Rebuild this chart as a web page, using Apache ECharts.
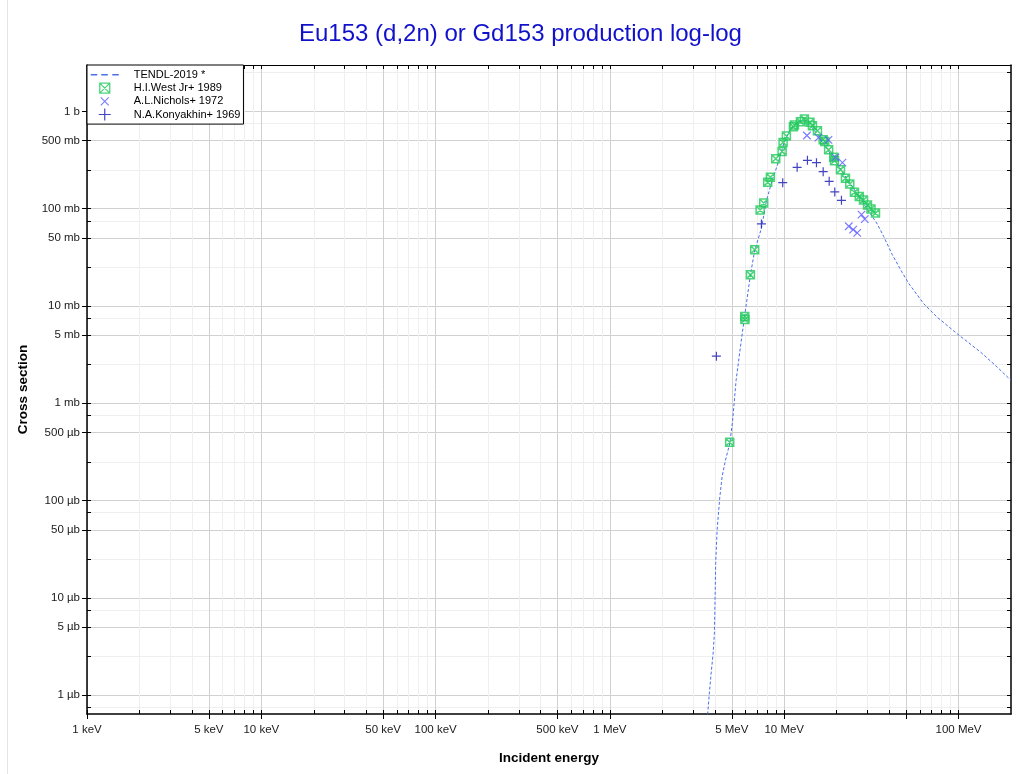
<!DOCTYPE html>
<html>
<head>
<meta charset="utf-8">
<script src="https://cdn.jsdelivr.net/npm/echarts@6/dist/echarts.min.js"></script>
<style>
html,body{margin:0;padding:0;background:#fff;}
#chart{width:1020px;height:774px;}
</style>
</head>
<body>
<div id="chart"></div>
<script>
// ---- Data (energies in MeV, cross sections in barns) ----
const tendlE  = [3.60, 3.64, 3.72, 3.81, 3.91, 3.975, 4.012, 4.044, 4.12, 4.264, 4.40, 4.60, 4.87, 5.06, 5.295, 5.606, 5.934, 6.397, 6.771, 7.40, 7.905, 8.52, 9.18, 9.935, 10.61, 11.34, 12.39, 13.23, 14.14, 15.45, 16.86, 18.42, 20.12, 21.96, 23.99, 26.22, 28.61, 31.25, 34.15, 37.25, 41.65, 47.52, 51.85, 63.22, 75.45, 98.28, 133.8, 166.8, 200];
const tendlXS = [5.0e-7, 6.5e-7, 1.05e-6, 1.69e-6, 2.70e-6, 4.34e-6, 1.02e-5, 2.27e-5, 4.95e-5, 1.06e-4, 1.75e-4, 2.59e-4, 3.85e-4, 6.67e-4, 1.72e-3, 3.78e-3, 7.99e-3, 0.0209, 0.0372, 0.063, 0.121, 0.194, 0.288, 0.463, 0.609, 0.730, 0.803, 0.789, 0.713, 0.586, 0.463, 0.365, 0.288, 0.228, 0.180, 0.142, 0.112, 0.0884, 0.0698, 0.0517, 0.0338, 0.0221, 0.0170, 0.01053, 0.00767, 0.00518, 0.003355, 0.002353, 0.00172];

const westE  = [4.866, 5.934, 5.95, 6.397, 6.771, 7.273, 7.627, 8.04, 8.33, 8.94, 9.725, 9.855, 10.29, 11.29, 11.44, 12.39, 13.06, 14.05, 14.52, 15.51, 16.73, 17.08, 17.98, 19.24, 19.42, 21.02, 22.45, 23.77, 25.29, 26.95, 28.49, 30.04, 31.46, 33.39];
const westXS = [3.97e-4, 7.8e-3, 7.27e-3, 0.0209, 0.0378, 0.0972, 0.1147, 0.1866, 0.2101, 0.3268, 0.3884, 0.4805, 0.559, 0.6966, 0.725, 0.784, 0.836, 0.775, 0.713, 0.634, 0.512, 0.492, 0.4044, 0.337, 0.3118, 0.252, 0.2051, 0.1797, 0.1474, 0.1331, 0.1231, 0.1089, 0.0995, 0.0901];

const nicholsE  = [13.50, 15.72, 17.94, 19.67, 21.58, 23.46, 24.86, 26.22, 27.75, 28.99];
const nicholsXS = [0.5656, 0.537, 0.510, 0.337, 0.2973, 0.0660, 0.0610, 0.0564, 0.0870, 0.0782];

const konyE  = [4.081, 7.398, 9.804, 11.86, 13.59, 15.31, 16.73, 18.11, 19.50, 21.30];
const konyXS = [3.05e-3, 0.0698, 0.1853, 0.266, 0.314, 0.297, 0.2404, 0.191, 0.1488, 0.1220];

const seriesNames = ['TENDL-2019 *', 'H.I.West Jr+ 1989', 'A.L.Nichols+ 1972', 'N.A.Konyakhin+ 1969'];

// ---- Ticks ----
const xTickValues = [0.001, 0.005, 0.01, 0.05, 0.1, 0.5, 1, 5, 10, 50, 100];
const xTickLabels = ['1 keV', '5 keV', '10 keV', '50 keV', '100 keV', '500 keV', '1 MeV', '5 MeV', '10 MeV', '', '100 MeV'];
const yTickValues = [1e-6, 5e-6, 1e-5, 5e-5, 1e-4, 5e-4, 1e-3, 5e-3, 1e-2, 5e-2, 0.1, 0.5, 1];
const yTickLabels = ['1 \u00b5b', '5 \u00b5b', '10 \u00b5b', '50 \u00b5b', '100 \u00b5b', '500 \u00b5b', '1 mb', '5 mb', '10 mb', '50 mb', '100 mb', '500 mb', '1 b'];

const X_MIN = 0.001, X_MAX = 200, Y_MIN = 6.4e-7, Y_MAX = 3;

const xMinor = [];
for (let d = -3; d <= 2; d++) {
  [2, 3, 4, 6, 7, 8, 9].forEach(m => {
    const v = m * Math.pow(10, d);
    if (v > X_MIN && v < X_MAX) xMinor.push(+v.toPrecision(6));
  });
}
const yMinor = [];
for (let d = -7; d <= 0; d++) {
  [2.5, 7.5].forEach(m => {
    const v = m * Math.pow(10, d);
    if (v > Y_MIN && v < Y_MAX) yMinor.push(+v.toPrecision(6));
  });
}
const xAll = xTickValues.concat(xMinor);
const yAll = yTickValues.concat(yMinor);

function lookup(vals, labels, v) {
  for (let i = 0; i < vals.length; i++) {
    if (Math.abs(Math.log10(v) - Math.log10(vals[i])) < 1e-6) return labels[i];
  }
  return '';
}
const pairs = (a, b) => a.map((v, i) => [v, b[i]]);

const FONT = 'Arial, "Liberation Sans", Helvetica, sans-serif';
const xLabelVals = xTickValues.filter((v, i) => xTickLabels[i] !== '');

const xBase = { type: 'log', logBase: 10, min: X_MIN, max: X_MAX, gridIndex: 0 };
const yBase = { type: 'log', logBase: 10, min: Y_MIN, max: Y_MAX, gridIndex: 0 };

const SYM_BOXX = 'path://M0,0L10,0L10,10L0,10Z M0,0L10,10 M10,0L0,10';
const SYM_X = 'path://M0,0L10,10 M10,0L0,10';
const SYM_PLUS = 'path://M5,0L5,10 M0,5L10,5';

const C_TENDL = '#4a6fe8', C_WEST = '#1fc95a', C_NICH = '#5a5aff', C_KONY = '#1515b0';

const chart = echarts.init(document.getElementById('chart'), null, { renderer: 'canvas' });
chart.setOption({
  animation: false,
  backgroundColor: '#fff',
  title: {
    text: 'Eu153 (d,2n) or Gd153 production log-log',
    left: 294, top: 17,
    textStyle: { color: '#1111cc', fontSize: 24, fontWeight: 'normal', fontFamily: FONT }
  },
  graphic: [{
    type: 'line', silent: true,
    shape: { x1: 7.5, y1: 0, x2: 7.5, y2: 774 },
    style: { stroke: '#e4e4e4', lineWidth: 1 }
  }],
  grid: { left: 87, right: 9, top: 65, bottom: 60, containLabel: false },
  legend: {
    left: 87, top: 65, orient: 'vertical',
    padding: [3, 3, 3, 3], itemGap: 0,
    itemWidth: 38, itemHeight: 12,
    backgroundColor: '#fff', borderColor: '#000', borderWidth: 1,
    selectedMode: false,
    textStyle: { fontSize: 11, color: '#000', fontFamily: FONT, lineHeight: 12 },
    data: [
      { name: seriesNames[0], icon: 'path://M0,0 M38,12 M0,6L6.5,6 M10.5,6L17,6 M21.5,6L28,6',
        itemStyle: { color: 'rgba(0,0,0,0)', borderColor: C_TENDL, borderWidth: 1.5 } },
      { name: seriesNames[1], icon: 'path://M0,0 M38,12 M9,1L19,1L19,11L9,11Z M9,1L19,11 M19,1L9,11',
        itemStyle: { color: 'rgba(0,0,0,0)', borderColor: C_WEST, borderWidth: 1.3 } },
      { name: seriesNames[2], icon: 'path://M0,0 M38,12 M10,2L18,10 M18,2L10,10',
        itemStyle: { color: 'rgba(0,0,0,0)', borderColor: C_NICH, borderWidth: 1.1 } },
      { name: seriesNames[3], icon: 'path://M0,0 M38,12 M8,6L20,6 M14,0L14,12',
        itemStyle: { color: 'rgba(0,0,0,0)', borderColor: C_KONY, borderWidth: 1.2 } }
    ]
  },
  xAxis: [
    Object.assign({}, xBase, {
      position: 'bottom',
      name: 'Incident energy', nameLocation: 'middle', nameGap: 37,
      nameTextStyle: { fontWeight: 'bold', fontSize: 13.5, color: '#000', fontFamily: FONT },
      axisLine: { show: true, onZero: false, lineStyle: { color: '#000', width: 1.5 } },
      axisTick: { show: true, inside: false, length: 5, customValues: xTickValues, lineStyle: { color: '#000' } },
      axisLabel: { show: true, customValues: xLabelVals, margin: 10, fontSize: 11.5, color: '#1a1a1a', fontFamily: FONT,
        formatter: v => lookup(xTickValues, xTickLabels, v) },
      splitLine: { show: true, lineStyle: { color: '#d0d0d0', width: 1 } },
      minorTick: { show: false }, minorSplitLine: { show: false }
    }),
    Object.assign({}, xBase, {
      position: 'bottom',
      axisLine: { show: false, onZero: false },
      axisTick: { show: true, inside: true, length: 4, customValues: xAll, lineStyle: { color: '#000' } },
      axisLabel: { show: false }, splitLine: { show: false }
    }),
    Object.assign({}, xBase, {
      position: 'bottom',
      axisLine: { show: false, onZero: false },
      axisTick: { show: false, customValues: xMinor },
      axisLabel: { show: false },
      splitLine: { show: true, lineStyle: { color: '#efefef', width: 1 } }
    }),
    Object.assign({}, xBase, {
      position: 'top',
      axisLine: { show: true, onZero: false, lineStyle: { color: '#000', width: 1 } },
      axisTick: { show: true, inside: true, length: 4, customValues: xAll, lineStyle: { color: '#000' } },
      axisLabel: { show: false }, splitLine: { show: false }
    })
  ],
  yAxis: [
    Object.assign({}, yBase, {
      position: 'left',
      name: 'Cross section', nameLocation: 'middle', nameGap: 53,
      nameTextStyle: { fontWeight: 'bold', fontSize: 13.5, color: '#000', fontFamily: FONT },
      axisLine: { show: true, onZero: false, lineStyle: { color: '#000', width: 1.5 } },
      axisTick: { show: true, inside: false, length: 5, customValues: yTickValues, lineStyle: { color: '#000' } },
      axisLabel: { show: true, customValues: yTickValues, margin: 7, fontSize: 11.5, color: '#1a1a1a', fontFamily: FONT,
        formatter: v => lookup(yTickValues, yTickLabels, v) },
      splitLine: { show: true, lineStyle: { color: '#d0d0d0', width: 1 } },
      minorTick: { show: false }, minorSplitLine: { show: false }
    }),
    Object.assign({}, yBase, {
      position: 'left',
      axisLine: { show: false, onZero: false },
      axisTick: { show: true, inside: true, length: 4, customValues: yAll, lineStyle: { color: '#000' } },
      axisLabel: { show: false }, splitLine: { show: false }
    }),
    Object.assign({}, yBase, {
      position: 'left',
      axisLine: { show: false, onZero: false },
      axisTick: { show: false, customValues: yMinor },
      axisLabel: { show: false },
      splitLine: { show: true, lineStyle: { color: '#efefef', width: 1 } }
    }),
    Object.assign({}, yBase, {
      position: 'right',
      axisLine: { show: true, onZero: false, lineStyle: { color: '#000', width: 1.5 } },
      axisTick: { show: true, inside: true, length: 4, customValues: yAll, lineStyle: { color: '#000' } },
      axisLabel: { show: false }, splitLine: { show: false }
    })
  ],
  series: [
    {
      name: seriesNames[0], type: 'line', xAxisIndex: 0, yAxisIndex: 0,
      data: pairs(tendlE, tendlXS), showSymbol: false, symbol: 'none', clip: true,
      lineStyle: { color: C_TENDL, width: 1, type: [3, 2] },
      itemStyle: { color: C_TENDL }, z: 2, silent: true
    },
    {
      name: seriesNames[1], type: 'scatter', xAxisIndex: 0, yAxisIndex: 0,
      data: pairs(westE, westXS), symbol: SYM_BOXX, symbolSize: 8,
      itemStyle: { color: 'rgba(0,0,0,0)', borderColor: C_WEST, borderWidth: 1.5 }, z: 3, silent: true
    },
    {
      name: seriesNames[2], type: 'scatter', xAxisIndex: 0, yAxisIndex: 0,
      data: pairs(nicholsE, nicholsXS), symbol: SYM_X, symbolSize: 7.5,
      itemStyle: { color: 'rgba(0,0,0,0)', borderColor: C_NICH, borderWidth: 1.2 }, z: 4, silent: true
    },
    {
      name: seriesNames[3], type: 'scatter', xAxisIndex: 0, yAxisIndex: 0,
      data: pairs(konyE, konyXS), symbol: SYM_PLUS, symbolSize: 9,
      itemStyle: { color: 'rgba(0,0,0,0)', borderColor: C_KONY, borderWidth: 1.2 }, z: 5, silent: true
    }
  ]
});
</script>
</body>
</html>
